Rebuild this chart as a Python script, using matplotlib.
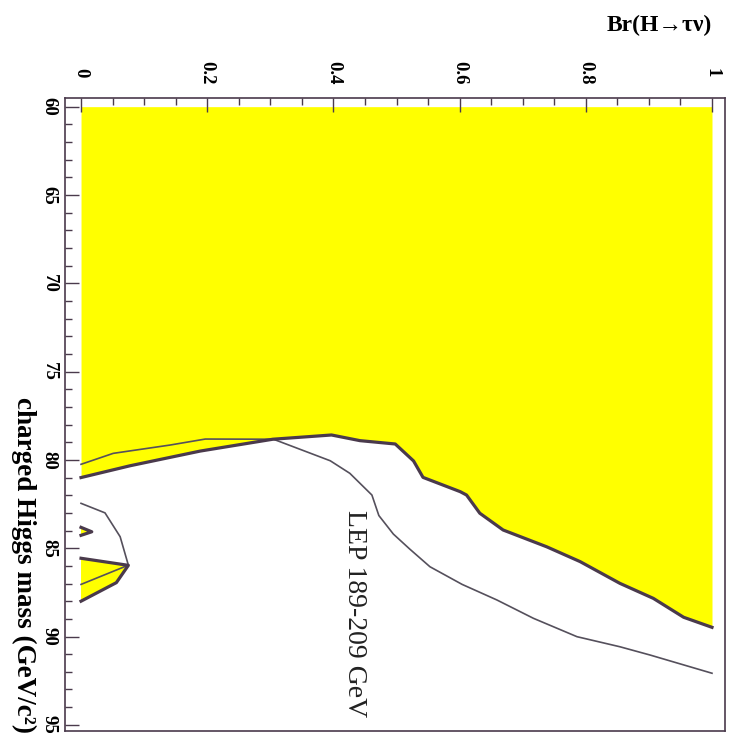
import matplotlib
matplotlib.use("Agg")
import matplotlib.pyplot as plt
from matplotlib.ticker import MultipleLocator

plt.rcParams['font.family'] = ['Liberation Serif', 'DejaVu Serif']

# observed limit (thick line), Br vs charged Higgs mass
br_obs = [0.0, 0.078, 0.189, 0.304, 0.397, 0.442, 0.498, 0.527, 0.542, 0.601,
          0.611, 0.632, 0.669, 0.738, 0.791, 0.854, 0.907, 0.955, 1.0]
mh_obs = [81.0, 80.33, 79.50, 78.83, 78.59, 78.91, 79.10, 80.06, 80.99, 81.80,
          81.99, 83.02, 83.97, 84.92, 85.76, 86.99, 87.84, 88.91, 89.48]

# expected limit (thin line)
br_exp = [0.0, 0.051, 0.141, 0.197, 0.305, 0.336, 0.395, 0.426, 0.461, 0.472,
          0.495, 0.521, 0.553, 0.604, 0.659, 0.717, 0.786, 0.854, 0.902, 1.0]
mh_exp = [80.25, 79.63, 79.16, 78.82, 78.83, 79.25, 80.05, 80.76, 81.99, 83.15,
          84.2, 85.05, 86.05, 87.05, 87.93, 88.97, 90.01, 90.58, 91.05, 92.08]

# small excluded islands at low Br
br_isl1 = [0.0, 0.017, 0.0]
mh_isl1 = [83.82, 84.07, 84.27]
br_isl2 = [0.0, 0.075, 0.056, 0.0]
mh_isl2 = [85.57, 85.97, 86.95, 88.0]

# expected-limit island
br_exp_isl = [0.0, 0.038, 0.062, 0.075, 0.0]
mh_exp_isl = [82.46, 83.0, 84.35, 85.96, 87.05]

br_ticks = [0, 0.2, 0.4, 0.6, 0.8, 1.0]
br_labels = ["0", "0.2", "0.4", "0.6", "0.8", "1"]
mh_ticks = [60, 65, 70, 75, 80, 85, 90, 95]

yellow = "#ffff00"
dark = "#4a3a4c"
thin = "#55505c"

fig = plt.figure(figsize=(7.33, 7.35), dpi=100)
ax = fig.add_axes([65 / 733, 1 - 731 / 735, 660 / 733, 633 / 735])

ax.fill_between(br_obs, 60, mh_obs, color=yellow, lw=0)
ax.fill(br_isl1, mh_isl1, color=yellow, lw=0)
ax.fill(br_isl2, mh_isl2, color=yellow, lw=0)

ax.plot(br_exp, mh_exp, color=thin, lw=1.2)
ax.plot(br_exp_isl, mh_exp_isl, color=thin, lw=1.2)
ax.plot(br_obs, mh_obs, color=dark, lw=2.3)
ax.plot(br_isl1, mh_isl1, color=dark, lw=2.3)
ax.plot(br_isl2, mh_isl2, color=dark, lw=2.3)

ax.set_xlim(-0.0254, 1.0206)
ax.set_ylim(95.35, 59.51)

ax.xaxis.tick_top()
ax.set_xticks(br_ticks, br_labels, rotation=-90, va='center', ha='center',
              fontsize=13.5, fontweight='bold')
ax.set_yticks(mh_ticks, [str(m) for m in mh_ticks], rotation=-90, va='center',
              ha='center', fontsize=13.5, fontweight='bold')
ax.xaxis.set_minor_locator(MultipleLocator(0.05))
ax.yaxis.set_minor_locator(MultipleLocator(1))
ax.tick_params(which='both', direction='in', color=dark, width=1.0)
ax.tick_params(which='major', length=10)
ax.tick_params(which='minor', length=5)
ax.tick_params(axis='x', which='major', pad=18.5)
ax.tick_params(axis='y', which='major', pad=11.5)
for s in ax.spines.values():
    s.set_color(dark)
    s.set_linewidth(1.2)

ax.text(0.434, 82.84, "LEP 189-209 GeV", rotation=-90, ha='center', va='top',
        fontsize=20, color="#222222")

fig.text(712 / 733, 1 - 25 / 735, "Br(H\u2192\u03c4\u03bd)", ha='right', va='center',
         fontsize=17, fontweight='bold')
fig.text(24 / 733, 1 - 397 / 735, "charged Higgs mass (GeV/c\u00b2)", rotation=-90,
         ha='center', va='top', fontsize=19.5, fontweight='bold')

fig.savefig("out.png", dpi=100, facecolor='white')
